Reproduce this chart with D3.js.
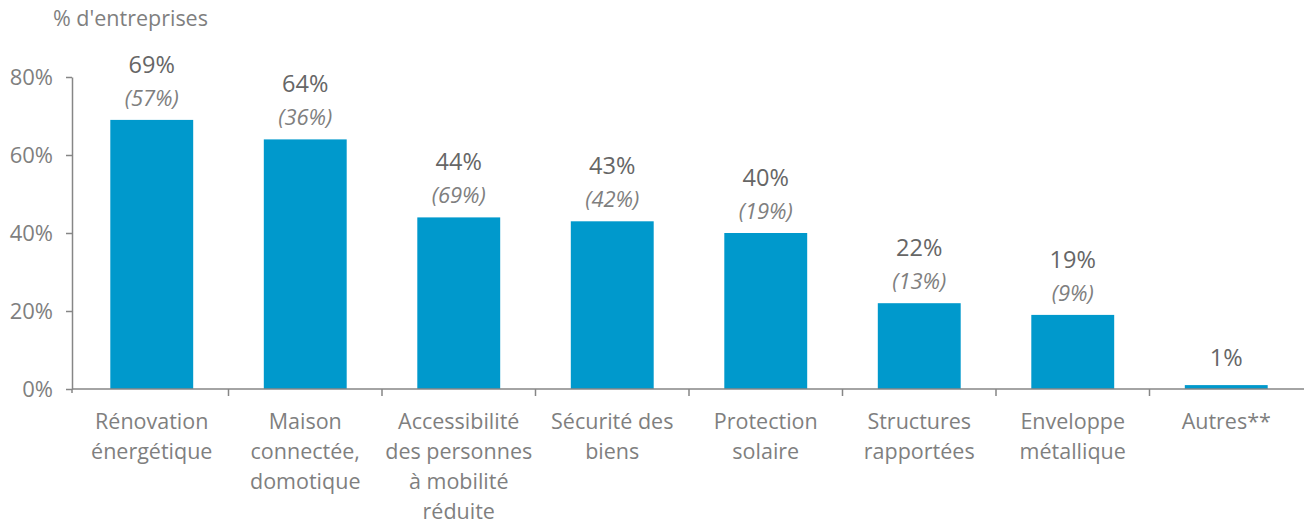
<!DOCTYPE html>
<html><head><meta charset="utf-8">
<script src="https://cdn.jsdelivr.net/npm/d3@7"></script>
<style>body{margin:0;background:#fff;} svg{display:block;font-family:"Open Sans",sans-serif;}</style>
</head><body>
<svg id="c" width="1306" height="524"></svg>
<script>
const categories = [
  ["Rénovation","énergétique"],
  ["Maison","connectée,","domotique"],
  ["Accessibilité","des personnes","à mobilité","réduite"],
  ["Sécurité des","biens"],
  ["Protection","solaire"],
  ["Structures","rapportées"],
  ["Enveloppe","métallique"],
  ["Autres**"]
];
const values = [69, 64, 44, 43, 40, 22, 19, 1];
const previous = [57, 36, 69, 42, 19, 13, 9, null];
const yTicks = [0, 20, 40, 60, 80];
const yTitle = "% d'entreprises";

const svg = d3.select("#c");
const x = d3.scaleBand().domain(d3.range(categories.length)).range([75, 1303]).paddingInner(0.46).paddingOuter(0.23);
const y = d3.scaleLinear().domain([0, 80]).range([389, 77]);
const grey = "#868686";

// bars
svg.selectAll("rect.bar").data(values).join("rect")
  .attr("x", (d,i)=>x(i)).attr("width", x.bandwidth())
  .attr("y", d=>y(d)).attr("height", d=>y(0)-y(d))
  .attr("fill", "#0099cc");

// y axis
const ya = svg.append("g").attr("transform","translate(72,0)")
  .call(d3.axisLeft(y).tickValues(yTicks).tickFormat(d=>d+"%").tickSize(6).tickSizeOuter(0));
ya.select(".domain").attr("stroke", grey).attr("stroke-width",1.5);
ya.selectAll(".tick line").attr("stroke", grey).attr("stroke-width",1.5);
ya.selectAll(".tick text").attr("fill","#7f7f7f").attr("font-size",22).attr("font-family","Open Sans").attr("x",-19);

// x axis line
svg.append("line").attr("x1",72).attr("x2",1304).attr("y1",y(0)).attr("y2",y(0)).attr("stroke",grey).attr("stroke-width",1.5);
svg.append("line").attr("x1",72).attr("x2",72).attr("y1",y(0)).attr("y2",y(0)+4).attr("stroke",grey).attr("stroke-width",1.5);
// category separator ticks
svg.selectAll("line.sep").data(d3.range(1, categories.length)).join("line")
  .attr("x1", i=>x(i)-x.step()*x.paddingInner()/2).attr("x2", i=>x(i)-x.step()*x.paddingInner()/2)
  .attr("y1", y(0)).attr("y2", y(0)+7).attr("stroke",grey).attr("stroke-width",1.5);

// category labels
categories.forEach((lines,i)=>{
  const t = svg.append("text").attr("text-anchor","middle").attr("fill","#7f7f7f").attr("font-size",21.5);
  lines.forEach((l,j)=>{
    t.append("tspan").attr("x", x(i)+x.bandwidth()/2).attr("y", 429 + j*30).text(l);
  });
});

// value labels
values.forEach((v,i)=>{
  const cx = x(i)+x.bandwidth()/2;
  if (previous[i] !== null) {
    svg.append("text").attr("x",cx).attr("y",y(v)-47).attr("text-anchor","middle")
      .attr("fill","#666666").attr("font-size",23.5).text(v+"%");
    svg.append("text").attr("x",cx).attr("y",y(v)-14).attr("text-anchor","middle")
      .attr("fill","#7f7f7f").attr("font-size",22).attr("font-style","italic").text("("+previous[i]+"%)");
  } else {
    svg.append("text").attr("x",cx).attr("y",y(v)-19).attr("text-anchor","middle")
      .attr("fill","#666666").attr("font-size",23.5).text(v+"%");
  }
});

// title
svg.append("text").attr("x",53).attr("y",26).attr("fill","#7f7f7f").attr("font-size",21.5).text(yTitle);
</script>
</body></html>
